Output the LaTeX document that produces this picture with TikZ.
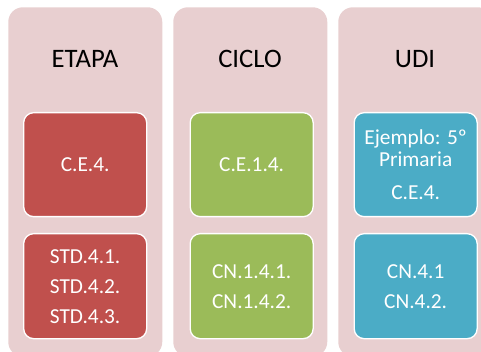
\documentclass[tikz,border=0pt]{standalone}
\usepackage{fontspec}
\setmainfont{Carlito}
\usetikzlibrary{positioning}

\definecolor{colbg}{RGB}{232,207,208}
\definecolor{etapared}{RGB}{192,80,77}
\definecolor{ciclogreen}{RGB}{155,187,89}
\definecolor{udiblue}{RGB}{75,172,198}

\tikzset{
  column/.style={fill=colbg, rounded corners=11pt, minimum width=115.5pt,
    minimum height=262pt, inner sep=0pt},
  heading/.style={font=\fontsize{20}{24}\selectfont, text=black},
  item/.style={draw=white, line width=1pt, rounded corners=7.5pt, text=white,
    minimum width=92.25pt, inner sep=0pt, align=center,
    font=\fontsize{16}{22.5}\selectfont},
  upper/.style={item, minimum height=78pt},
  lower/.style={item, minimum height=78.75pt},
}

\begin{document}
\begin{tikzpicture}[x=0.75pt, y=-0.75pt]
    \useasboundingbox (0,0) rectangle (481,352);
    \clip (0,0) rectangle (481,352);

    % Columns
    \node[column, anchor=north west] (etapa) at (8,7) {};
    \node[column, anchor=north west] (ciclo) at (173,7) {};
    \node[column, anchor=north west] (udi) at (338,7) {};

    \node[heading] (etapatitle) at (85,59) {ETAPA};
    \node[heading] (ciclotitle) at (250,59) {CICLO};
    \node[heading] (uditext) at (415,59) {UDI};

    % Etapa
    \node[upper, fill=etapared, anchor=north west] (etapace) at (23,112) {C.E.4.};
    \node[lower, fill=etapared, anchor=north west] (etapastd) at (23,233)
        {STD.4.1.\\STD.4.2.\\STD.4.3.};

    % Ciclo
    \node[upper, fill=ciclogreen, anchor=north west] (ciclace) at (189.5,112) {C.E.1.4.};
    \node[lower, fill=ciclogreen, anchor=north west] (ciclocn) at (189.5,233)
        {CN.1.4.1.\\CN.1.4.2.};

    % UDI
    \node[upper, fill=udiblue, anchor=north west] (udice) at (353.5,112)
        {Ejemplo: 5º\\[-6pt]Primaria\\[2pt]C.E.4.};
    \node[lower, fill=udiblue, anchor=north west] (udicn) at (353.5,233)
        {CN.4.1\\CN.4.2.};
\end{tikzpicture}
\end{document}
